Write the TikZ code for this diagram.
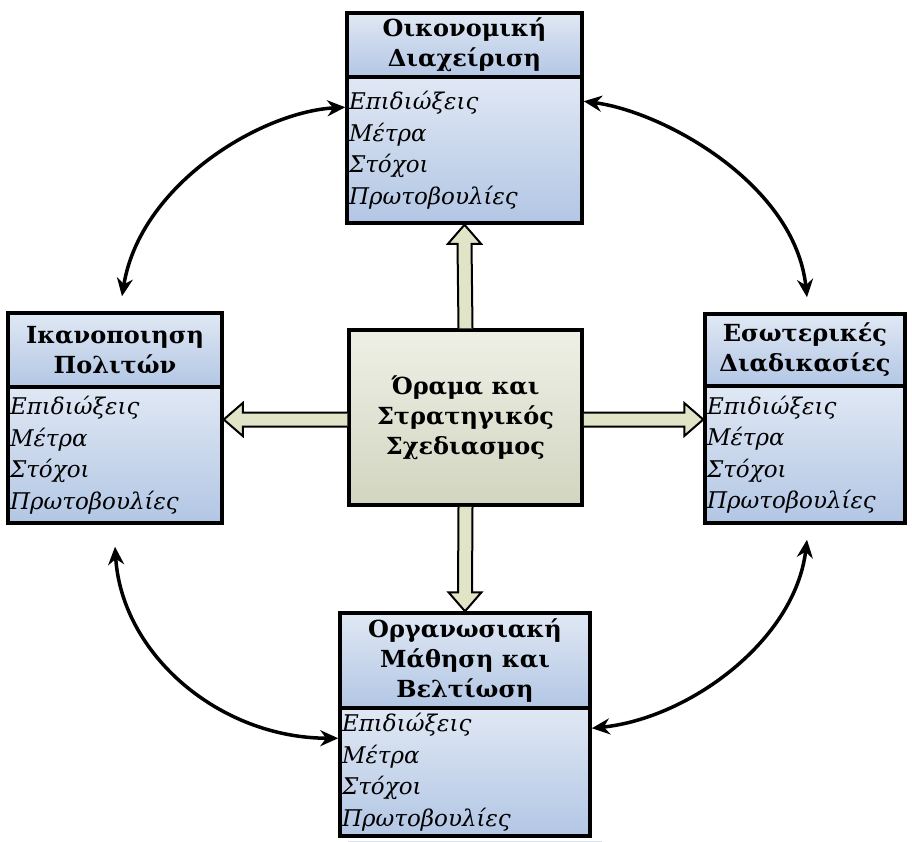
\documentclass[tikz,border=0pt]{standalone}
\usepackage{fontspec}
\setmainfont{DejaVu Serif}
\newfontfamily\hdfont[FakeStretch=1.02]{DejaVu Serif}
\newfontfamily\itfont[FakeStretch=1.0]{DejaVu Serif}
\usetikzlibrary{arrows.meta,calc,backgrounds}
\definecolor{bluetop}{HTML}{E0E8F4}
\definecolor{bluebot}{HTML}{B2C6E4}
\definecolor{greentop}{HTML}{EEF0E6}
\definecolor{greenbot}{HTML}{D2D5C0}
\definecolor{shadowc}{HTML}{D8E1F0}
\definecolor{hollowc}{HTML}{E2E4C8}
\tikzset{
  boxline/.style={draw=black, line width=3.5pt},
  hdr/.style={boxline, top color=bluetop, bottom color=bluebot, align=center, inner sep=0pt,
    font=\hdfont\bfseries\fontsize{23.5}{30}\selectfont},
  bdy/.style={boxline, top color=bluetop, bottom color=bluebot, align=left, inner xsep=2pt, inner ysep=0pt,
    font=\itfont\itshape\fontsize{23}{31.5}\selectfont},
  ctr/.style={boxline, top color=greentop, bottom color=greenbot, align=center, inner sep=0pt,
    font=\hdfont\bfseries\fontsize{23.5}{30}\selectfont},
  hollow/.style={draw=black, line width=2pt, fill=hollowc, line join=miter},
  curv/.style={line width=3.5pt, {Stealth[length=18pt,width=16pt]}-{Stealth[length=18pt,width=16pt]}},
  shad/.style={fill=shadowc}
}
\begin{document}
\begin{tikzpicture}[x=1pt,y=-1pt]
\useasboundingbox (0,0) rectangle (912,841);
\fill[white] (0,0) rectangle (912,841);

% top box
\node[hdr, minimum width=235pt, minimum height=64pt] (tH) at (464.5,45) {Οικονομική\\Διαχείριση};
\node[bdy, minimum width=235pt, minimum height=146pt, text width=231pt] (tB) at (464.5,150) {Επιδιώξεις\\Μέτρα\\Στόχοι\\Πρωτοβουλίες};
% left box
\node[hdr, minimum width=214pt, minimum height=74pt] (lH) at (115,350) {Ικανοποιηση\\Πολιτών};
\node[bdy, minimum width=214pt, minimum height=136pt, text width=210pt] (lB) at (115,455) {Επιδιώξεις\\Μέτρα\\Στόχοι\\Πρωτοβουλίες};
% right box
\node[hdr, minimum width=200pt, minimum height=72pt] (rH) at (805,350) {Εσωτερικές\\Διαδικασίες};
\node[bdy, minimum width=200pt, minimum height=137pt, text width=196pt] (rB) at (805,454.5) {Επιδιώξεις\\Μέτρα\\Στόχοι\\Πρωτοβουλίες};
% bottom box
\node[hdr, minimum width=250pt, minimum height=95pt] (bH) at (465,660.5) {Οργανωσιακή\\Μάθηση και\\Βελτίωση};
\node[bdy, minimum width=250pt, minimum height=128pt, text width=246pt] (bB) at (465,772) {Επιδιώξεις\\Μέτρα\\Στόχοι\\Πρωτοβουλίες};
% center
\node[ctr, minimum width=233pt, minimum height=175pt] (c) at (465.5,417.5) {Όραμα και\\Στρατηγικός\\Σχεδιασμος};

% shadows
\begin{scope}[on background layer]
\fill[shad] ($(tH.north west)+(10,10)$) rectangle ($(tB.south east)+(10,10)$);
\fill[shad] ($(lH.north west)+(10,10)$) rectangle ($(lB.south east)+(10,10)$);
\fill[shad] ($(rH.north west)+(10,10)$) rectangle ($(rB.south east)+(10,10)$);
\fill[shad] ($(bH.north west)+(10,10)$) rectangle ($(bB.south east)+(10,10)$);
\fill[shad] ($(c.north west)+(10,10)$) rectangle ($(c.south east)+(10,10)$);
\end{scope}

% hollow arrows
\draw[hollow] ($(c.north)+(-7,0)$) -- ($(tB.south)+(-7,19)$) -- ($(tB.south)+(-16.5,19)$) -- (tB.south)
  -- ($(tB.south)+(16.5,19)$) -- ($(tB.south)+(7,19)$) -- ($(c.north)+(7,0)$);
\draw[hollow] ($(c.south)+(-7,0)$) -- ($(bH.north)+(-7,-19)$) -- ($(bH.north)+(-16.5,-19)$) -- (bH.north)
  -- ($(bH.north)+(16.5,-19)$) -- ($(bH.north)+(7,-19)$) -- ($(c.south)+(7,0)$);
\coordinate (lt) at ($(c.west -| lB.east)+(0,2)$);
\coordinate (rt) at ($(c.east -| rB.west)+(0,2)$);
\draw[hollow] ($(c.west)+(0,-5)$) -- ($(lt)+(19,-7)$) -- ($(lt)+(19,-16.5)$) -- (lt)
  -- ($(lt)+(19,16.5)$) -- ($(lt)+(19,7)$) -- ($(c.west)+(0,9)$);
\draw[hollow] ($(c.east)+(0,-5)$) -- ($(rt)+(-19,-7)$) -- ($(rt)+(-19,-16.5)$) -- (rt)
  -- ($(rt)+(-19,16.5)$) -- ($(rt)+(-19,7)$) -- ($(c.east)+(0,9)$);

% curved arrows
\coordinate (trS) at ($(tB.north east)+(0,26)$);
\coordinate (trE) at ($(rH.north)+(2,-15)$);
\draw[curv] (trS) .. controls (665,112) and (795,185) .. (trE);
\coordinate (tlS) at ($(tB.north west)+(0,32)$);
\coordinate (tlE) at ($(lH.north)+(7,-15)$);
\draw[curv] (tlS) .. controls (260,112) and (140,185) .. (tlE);
\coordinate (blS) at ($(lB.south)+(0,22)$);
\coordinate (blE) at ($(bB.north west)+(0,32)$);
\draw[curv] (blS) .. controls (122,655) and (220,738) .. (blE);
\coordinate (brS) at ($(rB.south)+(2,15)$);
\coordinate (brE) at ($(bB.north east)+(0,22)$);
\draw[curv] (brS) .. controls (795,640) and (690,718) .. (brE);
\end{tikzpicture}
\end{document}
